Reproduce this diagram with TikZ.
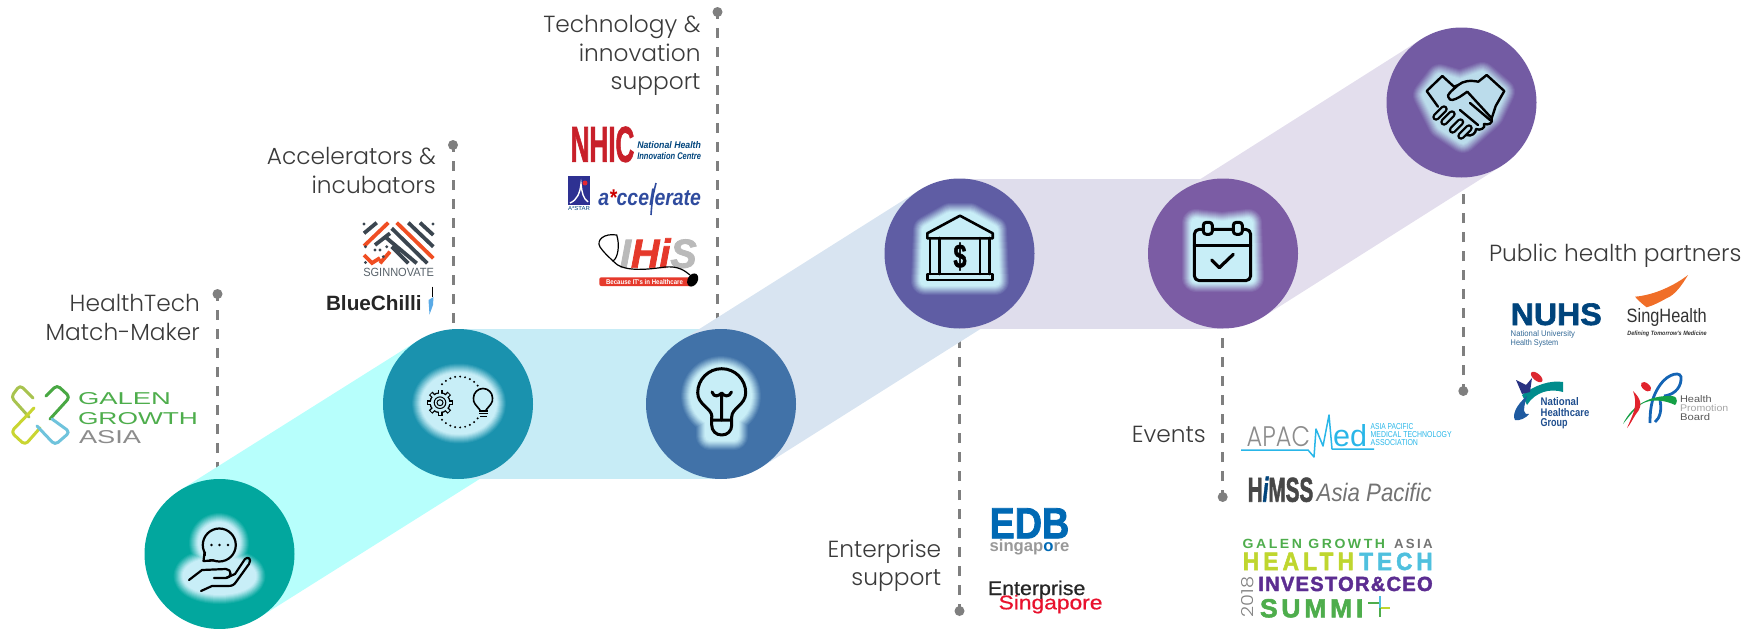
\documentclass[tikz,border=0pt]{standalone}
\usepackage{fontspec}
\usetikzlibrary{calc}
\IfFontExistsTF{Poppins Light}{\setmainfont{Poppins Light}}{\setmainfont{Poppins}}
\newfontfamily\ls{Liberation Sans}
\newfontfamily\lsh[BoldFeatures={FakeBold=2},BoldItalicFeatures={FakeBold=2}]{Liberation Sans}
\newfontfamily\lsm[FakeBold=0.7]{Liberation Sans}
\definecolor{glow}{HTML}{C8EEF7}
\definecolor{dashgray}{HTML}{7F7F7F}
\definecolor{labelink}{HTML}{3A3A3A}
\definecolor{cA}{HTML}{02A79E}\definecolor{cB}{HTML}{1A92AE}\definecolor{cC}{HTML}{4172A8}
\definecolor{cD}{HTML}{5F5DA4}\definecolor{cE}{HTML}{7B5CA4}\definecolor{cF}{HTML}{735BA3}
\definecolor{bA}{HTML}{B7FFFC}\definecolor{bB}{HTML}{C7ECF6}\definecolor{bC}{HTML}{D8E4F1}
\definecolor{bD}{HTML}{DFDDEC}\definecolor{bE}{HTML}{E3DEED}
\definecolor{ggreen}{HTML}{4EAD4C}\definecolor{navyb}{HTML}{00447C}\definecolor{cyanb}{HTML}{29B6E8}
\definecolor{purp}{HTML}{5C2D91}\definecolor{limeb}{HTML}{BFD62F}\definecolor{skyb}{HTML}{4FC0DE}
\definecolor{orgb}{HTML}{F04E23}\definecolor{slate}{HTML}{3B4650}
\definecolor{nhicred}{HTML}{C8202A}\definecolor{accblue}{HTML}{2F4B9E}\definecolor{edbblue}{HTML}{0069B4}
\definecolor{nhgblue}{HTML}{1F4E8E}\definecolor{ihisred}{HTML}{E5392B}\definecolor{redsg}{HTML}{E8112D}
\definecolor{glowsix}{HTML}{BBDCEB}
\tikzset{
  bubble/.style={circle,inner sep=0pt,outer sep=0pt,minimum size=150pt},
  pin/.style={circle,fill=dashgray,inner sep=0pt,minimum size=10pt},
  lead/.style={draw=dashgray,line width=3pt,dash pattern=on 10pt off 9pt,dash phase=3pt},
  lab/.style={inner sep=0pt,align=right,anchor=north east,text=labelink,font=\fontsize{23.3}{28.7}\selectfont},
  ic/.style={draw=black,line width=2.6pt,line cap=round,line join=round},
  icthin/.style={draw=black,line width=1.6pt,line cap=round,line join=round},
}
\newcommand\logotxt[7]{\node[inner sep=0pt,outer sep=0pt,anchor=base west,text=#5] (#1) at (#2) {\resizebox{#3pt}{#4pt}{#6{}#7}};}
\newcommand\halomix[3]{\foreach \w/\m in {28/8,26/18,24/29,22/40,20/51,18/62,16/73,14/84,12/93,10/100}{\path[fill=#3!\m!#1,draw=#3!\m!#1,line width=\w pt,line join=round] #2;}}
\newcommand\halo[2]{\halomix{#1}{#2}{glow}}
\newcommand\band[3]{\fill[#3] ($(#1)!75pt!90:(#2)$) -- ($(#2)!75pt!-90:(#1)$) -- ($(#2)!75pt!90:(#1)$) -- ($(#1)!75pt!-90:(#2)$) -- cycle;}
\begin{document}
\begin{tikzpicture}[x=1pt,y=-1pt]
\useasboundingbox (0,0) rectangle (1759,629);
% anchors
\coordinate (ca) at (219.5,554);\coordinate (cb) at (458,404);\coordinate (cc) at (721,404);
\coordinate (cd) at (959.5,253.5);\coordinate (ce) at (1223,253.5);\coordinate (cf) at (1461.5,102.5);
\node[pin] (p1) at (217.5,294) {};
\node[pin] (p2) at (453,145) {};
\node[pin] (p3) at (717.5,12) {};
\node[pin] (p4) at (959.5,611) {};
\node[pin] (p5) at (1222.7,497) {};
\node[pin] (p6) at (1463.3,391) {};
% leaders
\draw[lead] (p1.center) -- (p1 |- ca);
\draw[lead,shorten >=6pt] (p2.center) -- (p2 |- cb);
\draw[lead] (p3.center) -- (p3 |- cc);
\draw[lead] (p4.center) -- (p4 |- cd);
\draw[lead,shorten >=84pt] (p5.center) -- (p5 |- ce);
\draw[lead] (p6.center) -- (p6 |- cf);
% bands
\band{ca}{cb}{bA}
\band{cb}{cc}{bB}
\band{cc}{cd}{bC}
\band{cd}{ce}{bD}
\band{ce}{cf}{bE}
% circles
\node[bubble,fill=cA] (c1) at (ca) {};
\node[bubble,fill=cB] (c2) at (cb) {};
\node[bubble,fill=cC] (c3) at (cc) {};
\node[bubble,fill=cD] (c4) at (cd) {};
\node[bubble,fill=cE] (c5) at (ce) {};
\node[bubble,fill=cF] (c6) at (cf) {};
% halos
\halo{cA}{(219,543) circle[radius=16pt] (219.5,576) ellipse[x radius=32pt,y radius=14pt]}
\halo{cB}{(459,403.5) ellipse [x radius=33pt,y radius=26pt]}
\halo{cC}{(721,396) circle [radius=26pt] (710,396) rectangle (734,436)}
\halo{cD}{(950,217)--(970,217)--(993,230)--(995,281)--(925,281)--(927,230)--cycle}
\halo{cE}{(1196,223)--(1222,226)--(1248,223)--(1250,278)--(1196,278)--cycle}
\halomix{cF}{(1440,78)--(1460,84)--(1482,76)--(1501,92)--(1490,115)--(1463,139)--(1442,125)--(1427,95)--cycle}{glowsix}
% icon 1: hand and speech bubble
\draw[ic,line width=2.2pt] (219.3,545) circle[radius=16.5pt];
\fill[glow] (206,553) -- (206,559) -- (214,559) -- (214,553) -- cycle;
\draw[ic,line width=2.2pt] (204.5,552.5) -- (203.5,561) -- (213.5,560.5);
\foreach \x in {211.5,219.5,228}{\fill (\x,545) circle[radius=1.4pt];}
\draw[ic,line width=2.2pt] (189,580) -- (202,570) -- (226,569) .. controls (232,569) and (232,578) .. (226,578) -- (214,578);
\draw[ic,line width=2.2pt] (226,578) -- (235,574) -- (245,559) .. controls (248,556) and (252,559) .. (249,564) -- (236,582) .. controls (234,585) and (232,586) .. (228,586) -- (212,586) -- (201,591);
% icon 2: gear, dots, bulb
\foreach \a in {0,45,...,315}{\draw[black,line width=5pt] ($(440,402.7)+(\a:8pt)$) -- ($(440,402.7)+(\a:13.2pt)$);}
\fill[black] (440,402.7) circle[radius=10.6pt];
\foreach \a in {0,45,...,315}{\draw[glow,line width=2.2pt] ($(440,402.7)+(\a:7pt)$) -- ($(440,402.7)+(\a:12.3pt)$);}
\fill[glow] (440,402.7) circle[radius=9.2pt];
\draw[black,line width=1pt] (440,402.7) circle[radius=5.8pt] (440,402.7) circle[radius=3pt];
\foreach \a in {40,52,...,140}{\fill[black] ($(459.3,402)+(\a:24pt and 25.5pt)$) circle[radius=1.1pt];\fill[black] ($(459.3,402)+(-\a:24pt and 25.5pt)$) circle[radius=1.1pt];}
\draw[icthin] (480,410) .. controls (476,405) and (473,403) .. (473.5,398) arc[start angle=180,end angle=0,radius=9.5pt] .. controls (493,403) and (490,405) .. (486,410);
\draw[black,line width=1.3pt] (479,411) -- (488,411) (479,413.7) -- (488,413.7) (480,416.7) -- (487,416.7);
% icon 3: light bulb
\draw[ic,line width=3pt] (712,417) .. controls (712,408) and (697.7,405) .. (697.7,392.7) arc[start angle=180,end angle=0,radius=24pt] .. controls (745.7,405) and (731.7,408) .. (731.7,417);
\draw[ic,line width=3pt] (711.7,420) -- (731.7,420) (711.7,417) -- (711.7,425) .. controls (711.7,431) and (716,435) .. (721.7,435) .. controls (727.5,435) and (731.7,431) .. (731.7,425) -- (731.7,417);
\draw[ic,line width=3pt] (721.7,420) -- (721.7,395) (712,392) .. controls (714,398) and (719,396) .. (721.7,393) .. controls (724,396) and (729,398) .. (731.5,392);
% icon 4: bank
\draw[ic] (927.3,233.3) -- (960,215.7) -- (992.7,233.3) -- (992.7,238.3) -- (927.3,238.3) -- cycle;
\draw[ic] (930,238) -- (930,274) (939.3,238) -- (939.3,274) (980,238) -- (980,274) (989.3,238) -- (989.3,274);
\draw[ic] (927.3,274) rectangle (992.7,280);
\node[inner sep=0pt,text=black] (dollar) at (960,256.5) {\resizebox{13pt}{25pt}{\lsh\bfseries\$}};
% icon 5: calendar
\draw[ic,line width=3pt,rounded corners=5pt] (1194.3,229.3) rectangle (1250.7,280.7);
\draw[ic,line width=3pt] (1194.3,245) -- (1250.7,245);
\draw[ic,line width=3pt,fill=glow,rounded corners=3pt] (1203.3,222.3) rectangle (1212.3,234.3);
\draw[ic,line width=3pt,fill=glow,rounded corners=3pt] (1233.3,222.3) rectangle (1242.3,234.3);
\draw[ic,line width=3.2pt] (1211.7,260) -- (1219.3,267.7) -- (1233.3,254.3);
% icon 6: handshake
\draw[ic,line width=2.4pt] (1438,106.7) -- (1426.7,91) -- (1442.3,76) -- (1454,86.7);
\draw[ic,line width=2.4pt] (1454,86.7) -- (1458.3,85) .. controls (1450,92) and (1447,95) .. (1448.3,97) .. controls (1450,102) and (1454,100) .. (1460,96.7) -- (1467.3,91.7) -- (1491.7,118.3) .. controls (1493,124) and (1488,125) .. (1484,124);
\draw[ic,line width=2.4pt] (1458.3,85) .. controls (1463,81) and (1470,80) .. (1478.3,81.7) -- (1486.7,75) -- (1504.3,91) -- (1495.7,106) -- (1491.7,118.3);
\draw[ic,line width=2.4pt] (1460,110) -- (1478,125) (1470,103) -- (1490,120) (1484,124) .. controls (1486,128) and (1480,131) .. (1476,129) .. controls (1476,133) and (1472,137) .. (1466,135);
\foreach \x/\y in {1440/113,1448/118,1456.5/126,1465/132}{\draw[black,line width=7.5pt,line cap=round] (\x-4,\y+4) -- (\x+4,\y-4);\draw[glowsix,line width=3pt,line cap=round] (\x-4,\y+4) -- (\x+4,\y-4);}
% labels
\node[lab] (l1) at (200,294) {HealthTech\\Match-Maker};
\node[lab] (l2) at (436,147.5) {Accelerators \&\\incubators};
\node[lab] (l3) at (700.7,15) {Technology \&\\innovation\\support};
\node[lab] (l4) at (941.4,539.5) {Enterprise\\support};
\node[lab] (l5) at (1206,425.5) {Events};
\node[lab] (l6) at (1741.7,244) {Public health partners};
% Galen Growth Asia
\begin{scope}[line width=3pt,line cap=round,line join=round,rounded corners=4pt]
\draw[color={rgb,255:red,168;green,195;blue,79}] (33,398) -- (20,385) -- (11,397) -- (29,417);
\draw[color={rgb,255:red,73;green,168;blue,67}] (46,396) -- (57,385) -- (70,397) -- (50,419);
\draw[color={rgb,255:red,201;green,213;blue,49}] (34,408) -- (11,432) -- (25,445) -- (40,428);
\draw[color={rgb,255:red,111;green,195;blue,220}] (52,419) -- (70,432) -- (55,445) -- (37,426);
\end{scope}
\logotxt{gga}{78,404}{93}{12}{ggreen}{\ls}{GALEN}
\logotxt{ggb}{78,424}{120}{12}{ggreen}{\ls}{GROWTH}
\logotxt{ggc}{79,443}{62}{13}{black!45}{\ls}{ASIA}
% SGInnovate
\begin{scope}[line width=3.8pt,line cap=butt]
\draw[slate] (408.3,222.7) -- (433.3,246.7) (420,222.7) -- (433.3,235) (391.7,228.3) -- (427.3,263.3) (385.7,237.3) -- (416.7,263.3) (391.7,246.7) -- (408.3,263.3) (364,233.3) -- (376.7,222.7) (375,245) -- (390,233.3);
\draw[orgb] (396.7,222.7) -- (433.3,258.3) (364,246) -- (388.3,222.7) (364,255) -- (372,263) -- (380,258) (390,251.7) -- (380,263.3);
\end{scope}
\foreach \x/\y in {364/224,433/224,365.5/262.5,365.5/246.7,375/250,380/250,386.7/246.7,383.3/256.7}{\fill[slate] (\x,\y) circle[radius=1.6pt];}
\logotxt{sg}{363.3,276.7}{70.7}{8.3}{slate!85}{\ls}{SGINNOVATE}
\logotxt{bc}{326,310}{95.7}{15}{black!85}{\ls\bfseries}{BlueChilli}
\draw[black,line width=1pt] (432.5,286.5) -- (432.5,297);
\fill[color={rgb,255:red,90;green,170;blue,230}] (428.5,300) -- (433.5,297) -- (433,305) -- (429.5,314.5) -- cycle;
% NHIC
\logotxt{nh}{570.7,161.7}{63.6}{35}{nhicred}{\lsh\bfseries}{NHIC}
\logotxt{nha}{637.3,148.3}{63.7}{7}{navyb}{\ls\bfseries\itshape}{National Health}
\logotxt{nhb}{637.3,159.3}{63.7}{7}{navyb}{\ls\bfseries\itshape}{Innovation Centre}
% A*STAR
\fill[color={rgb,255:red,46;green,49;blue,146}] (568,175.7) rectangle (590,205);
\draw[white,line width=1.4pt] (570,203) .. controls (577,200) and (580,193) .. (581,184) .. controls (582,193) and (583,198) .. (588,202);
\fill[color={rgb,255:red,230;green,40;blue,50}] (585,183) circle[radius=2.5pt];
\logotxt{as}{568,210.7}{22}{4}{navyb}{\ls}{A*STAR}
\logotxt{ac}{598.3,205}{102.7}{16.5}{accblue}{\ls\bfseries\itshape}{a\textcolor{red!80!black}{*}ccelerate}
\draw[accblue,line width=1.6pt] (651,215) .. controls (652,200) and (653,195) .. (656,183);
% IHiS
\logotxt{ih}{620,267.7}{76.7}{29.4}{black!27}{\lsh\bfseries\itshape}{I\textcolor{ihisred}{Hi}S}
\draw[black,line width=1.2pt] (616.7,235) .. controls (604,233) and (596,240) .. (600,247) .. controls (604,253) and (610,258) .. (613,261) .. controls (618,258) and (620,245) .. (616.7,235) -- cycle;
\draw[black,line width=1.2pt] (613,261) .. controls (622,272) and (645,270) .. (665,267) .. controls (678,266) and (684,270) .. (690,275);
\fill[ihisred,rounded corners=2pt] (599.3,277.3) rectangle (693,286);
\logotxt{ihb}{606,284}{77}{5}{white}{\ls\bfseries}{Because IT's in Healthcare}
\fill[black,rotate around={-30:(692.7,280)}] (692.7,280) ellipse[x radius=5pt,y radius=7pt];
% EDB
\logotxt{edb}{989.6,538.3}{79.7}{30}{edbblue}{\lsh\bfseries}{EDB}
\logotxt{eds}{989.6,551.7}{79.7}{12}{black!40}{\ls\bfseries}{singap\textcolor{edbblue}{o}re}
\logotxt{ens}{987.9,595}{97.5}{14.3}{black!85}{\lsm}{Enterprise}
\logotxt{enr}{998.6,609.3}{103.9}{14.3}{redsg}{\lsm}{Singapore}
% APACMed
\logotxt{ap}{1246.7,446.7}{63.3}{20}{black!45}{}{APAC}
\draw[cyanb,line width=1.5pt,line join=round] (1241,450) -- (1308,450) -- (1314,457) -- (1316,429) -- (1323,446) -- (1329,415) -- (1332,449) -- (1374,449);
\logotxt{apm}{1333,446}{34}{22}{cyanb}{\ls}{ed}
\logotxt{apa}{1370.7,429.3}{42.6}{6}{cyanb}{\ls}{ASIA PACIFIC}
\logotxt{apb}{1370.7,437.7}{81}{6}{cyanb}{\ls}{MEDICAL TECHNOLOGY}
\logotxt{apc}{1370.7,445.3}{47.3}{6}{cyanb}{\ls}{ASSOCIATION}
% HIMSS
\logotxt{him}{1247.7,501.7}{65.6}{25}{black!72}{\lsh\bfseries}{H\textcolor{navyb}{\itshape i}MSS}
\logotxt{hia}{1316.7,501.7}{115}{18.3}{black!55}{\ls\itshape}{Asia Pacific}
% Summit
\logotxt{sua}{1242.7,548.3}{142.3}{9.3}{ggreen}{\ls\bfseries\addfontfeature{LetterSpace=18}}{GALEN GROWTH}
\logotxt{sub}{1394,548.3}{38.7}{9.3}{black!55}{\ls\bfseries\addfontfeature{LetterSpace=18}}{ASIA}
\logotxt{suc}{1242.7,570}{111.3}{17.3}{limeb}{\lsh\bfseries\addfontfeature{LetterSpace=18}}{HEALTH}
\logotxt{sud}{1359.3,570}{73.4}{17.3}{skyb}{\lsh\bfseries\addfontfeature{LetterSpace=18}}{TECH}
\logotxt{sue}{1258.3,591}{174.4}{14.3}{purp}{\lsh\bfseries\addfontfeature{LetterSpace=6}}{INVESTOR\&CEO}
\logotxt{suf}{1260,617.3}{103.3}{18.3}{ggreen}{\lsh\bfseries\addfontfeature{LetterSpace=14}}{SUMMI}
\draw[limeb,line width=2.5pt] (1380,608) -- (1390,608);
\draw[ggreen,line width=2.5pt] (1368,603) -- (1380,603) (1380,608) -- (1380,617);
\draw[skyb,line width=2.5pt] (1380,596) -- (1380,608);
\node[inner sep=0pt,anchor=south,rotate=90,text=black!50] (sug) at (1254,597) {\resizebox{40.6pt}{12pt}{2018}};
% NUHS
\logotxt{nu}{1510.7,325}{91}{21.7}{navyb}{\lsh\bfseries}{NUHS}
\logotxt{nua}{1510.7,336.7}{64.3}{6}{navyb!80!white}{\ls}{National University}
\logotxt{nub}{1510.7,345}{47.6}{6}{navyb!80!white}{\ls}{Health System}
% SingHealth
\fill[color={rgb,255:red,240;green,110;blue,40}] (1635,296.7) .. controls (1655,295) and (1675,285) .. (1688,275) .. controls (1682,285) and (1675,295) .. (1667,298) .. controls (1660,302) and (1652,306) .. (1646.7,307.3) .. controls (1642,304) and (1638,300) .. cycle;
\logotxt{si}{1626.7,322.3}{80}{14}{black!80}{\ls}{SingHealth}
\logotxt{sib}{1627.3,335}{79.4}{4.5}{black!80}{\ls\bfseries\itshape}{Defining Tomorrow's Medicine}
% National Healthcare Group
\fill[color={rgb,255:red,0;green,140;blue,140}] (1522,395) .. controls (1535,385) and (1550,380) .. (1563,382) -- (1563,392) .. controls (1550,388) and (1535,392) .. (1527,405) -- cycle;
\fill[color={rgb,255:red,30;green,90;blue,160}] (1527,396) .. controls (1516,405) and (1512,415) .. (1515,420) .. controls (1520,421) and (1526,418) .. (1529,414) .. controls (1524,415) and (1522,412) .. (1527,396) -- cycle;
\fill[color={rgb,255:red,40;green,50;blue,130}] (1516,380) -- (1526,385) -- (1532,378) -- (1530,392) -- (1522,394) -- cycle;
\fill[color={rgb,255:red,220;green,40;blue,50},rotate around={-40:(1536.7,377)}] (1536.7,377) ellipse[x radius=7pt,y radius=3.5pt];
\logotxt{nga}{1540.7,405.7}{38}{8}{nhgblue}{\ls\bfseries}{National}
\logotxt{ngb}{1540.7,416.7}{48.6}{8}{nhgblue}{\ls\bfseries}{Healthcare}
\logotxt{ngc}{1540.7,426.7}{27}{8}{nhgblue}{\ls\bfseries}{Group}
% Health Promotion Board
\draw[color={rgb,255:red,20;green,100;blue,180},line width=2.8pt] (1650,423) .. controls (1650,405) and (1653,395) .. (1660,385) .. controls (1668,373) and (1683,370) .. (1681,380) .. controls (1680,390) and (1672,395) .. (1664,396) (1660,400) .. controls (1662,410) and (1660,418) .. (1655,422);
\fill[color={rgb,255:red,20;green,160;blue,70}] (1623,424) .. controls (1632,405) and (1650,395) .. (1672,396) .. controls (1680,397) and (1676,405) .. (1675,405) .. controls (1665,400) and (1650,398) .. (1640,405) .. controls (1632,412) and (1628,418) .. cycle;
\fill[color={rgb,255:red,225;green,35;blue,45},rotate around={-40:(1646,386.7)}] (1646,386.7) ellipse[x radius=6pt,y radius=3.5pt];
\fill[color={rgb,255:red,225;green,35;blue,45}] (1633,391) .. controls (1640,398) and (1644,405) .. (1636,414) .. controls (1632,420) and (1630,425) .. (1627,428) .. controls (1634,412) and (1638,405) .. cycle;
\logotxt{hpa}{1680,402.3}{31.7}{7}{black!65}{\ls}{Health}
\logotxt{hpb}{1680,411.7}{48.3}{7}{black!35}{\ls}{Promotion}
\logotxt{hpc}{1680,420}{30}{7}{black!65}{\ls}{Board}
\end{tikzpicture}
\end{document}
